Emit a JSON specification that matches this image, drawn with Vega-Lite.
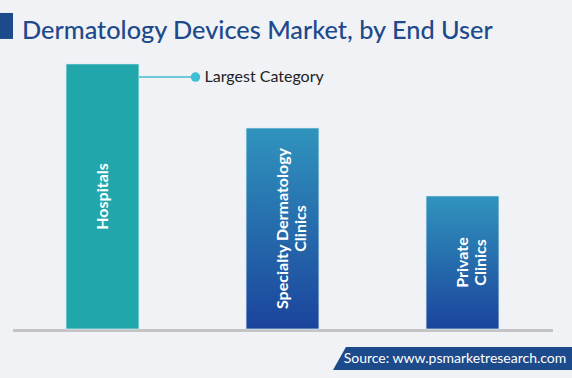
{
  "$schema": "https://vega.github.io/schema/vega-lite/v6.json",
  "width": 540,
  "height": 275,
  "autosize": "none",
  "padding": {"left": 12.5, "top": 54, "right": 19.5, "bottom": 49},
  "background": "#f1f2f6",
  "title": {
    "text": "Dermatology Devices Market, by End User",
    "anchor": "start",
    "frame": "group",
    "font": "Lato",
    "fontSize": 25.3,
    "fontWeight": 500,
    "color": "#1d4a8b",
    "baseline": "alphabetic",
    "dx": 9.5,
    "dy": 67.5,
    "offset": 16
  },
  "config": {
    "view": {"stroke": null},
    "font": "Lato",
    "axisX": {
      "labels": false,
      "ticks": false,
      "grid": false,
      "domainColor": "#c4c4c6",
      "domainWidth": 3,
      "offset": 1
    }
  },
  "data": {
    "values": [
      {"category": "Hospitals", "label": "Hospitals", "value": 96.4},
      {"category": "Specialty Dermatology Clinics", "label": "Specialty Dermatology\nClinics", "value": 73.1},
      {"category": "Private Clinics", "label": "Private\nClinics", "value": 48.4}
    ]
  },
  "layer": [
    {
      "transform": [{"filter": "datum.category === 'Hospitals'"}],
      "mark": {"type": "bar", "color": "#21a7ab", "stroke": "#d6eef2", "strokeWidth": 1, "strokeOpacity": 0.7},
      "encoding": {
        "x": {
          "field": "category",
          "type": "nominal",
          "sort": ["Hospitals", "Specialty Dermatology Clinics", "Private Clinics"],
          "scale": {"domain": ["Hospitals", "Specialty Dermatology Clinics", "Private Clinics"], "paddingInner": 0.595, "paddingOuter": 0.2975},
          "axis": {"title": null}
        },
        "y": {
          "field": "value",
          "type": "quantitative",
          "scale": {"domain": [0, 100]},
          "axis": null
        }
      }
    },
    {
      "transform": [{"filter": "datum.category !== 'Hospitals'"}],
      "mark": {
        "type": "bar",
        "stroke": "#d6eef2", "strokeWidth": 1, "strokeOpacity": 0.7,
        "color": {
          "gradient": "linear",
          "x1": 0, "y1": 0, "x2": 0, "y2": 1,
          "stops": [
            {"offset": 0, "color": "#3094bd"},
            {"offset": 1, "color": "#1b449c"}
          ]
        }
      },
      "encoding": {
        "x": {"field": "category", "type": "nominal"},
        "y": {"field": "value", "type": "quantitative"}
      }
    },
    {
      "transform": [{"calculate": "datum.value / 2", "as": "mid"}],
      "mark": {
        "type": "text",
        "angle": 270,
        "align": "center",
        "baseline": "middle",
        "color": "white",
        "fontWeight": "bold",
        "fontSize": 16,
        "lineBreak": "\n",
        "lineHeight": 18
      },
      "encoding": {
        "x": {"field": "category", "type": "nominal"},
        "y": {"field": "mid", "type": "quantitative"},
        "text": {"field": "label"}
      }
    },
    {
      "data": {"values": [{"note": "Largest Category"}]},
      "mark": {
        "type": "point",
        "filled": true,
        "opacity": 1,
        "color": "#6ccad9",
        "shape": "M -1 -0.0354 L 1 -0.0354 L 1 0.0354 L -1 0.0354 Z",
        "size": 3192,
        "xOffset": 64.75
      },
      "encoding": {
        "x": {"datum": "Hospitals"},
        "y": {"datum": 91.6}
      }
    },
    {
      "data": {"values": [{"note": "Largest Category"}]},
      "mark": {"type": "point", "filled": true, "color": "#3fbfd6", "size": 90, "opacity": 1, "xOffset": 93},
      "encoding": {
        "x": {"datum": "Hospitals"},
        "y": {"datum": 91.6}
      }
    },
    {
      "data": {"values": [{"note": "Largest Category"}]},
      "mark": {"type": "text", "align": "left", "baseline": "middle", "fontSize": 16, "color": "#222222", "dx": 102},
      "encoding": {
        "x": {"datum": "Hospitals"},
        "y": {"datum": 91.6},
        "text": {"field": "note"}
      }
    },
    {
      "data": {"values": [{"note": "title marker"}]},
      "mark": {
        "type": "point",
        "filled": true,
        "opacity": 1,
        "color": "#1d4a8b",
        "shape": "M -0.5 -1 L 0.5 -1 L 0.5 1 L -0.5 1 Z",
        "size": 676,
        "xOffset": -96
      },
      "encoding": {
        "x": {"datum": "Hospitals"},
        "y": {"datum": 110.2}
      }
    },
    {
      "data": {"values": [{"note": "Source: www.psmarketresearch.com"}]},
      "mark": {
        "type": "point",
        "filled": true,
        "opacity": 1,
        "color": "#1d4a8b",
        "shape": "M -0.892 -0.0958 L 1 -0.0958 L 1 0.0958 L -1 0.0958 Z",
        "size": 57600,
        "xOffset": -9.5
      },
      "encoding": {
        "x": {"datum": "Private Clinics"},
        "y": {"datum": -10.73}
      }
    },
    {
      "data": {"values": [{"note": "Source: www.psmarketresearch.com"}]},
      "mark": {"type": "text", "align": "center", "baseline": "middle", "fontSize": 14, "color": "white", "dx": -7.5},
      "encoding": {
        "x": {"datum": "Private Clinics"},
        "y": {"datum": -10.73},
        "text": {"field": "note"}
      }
    }
  ]
}
